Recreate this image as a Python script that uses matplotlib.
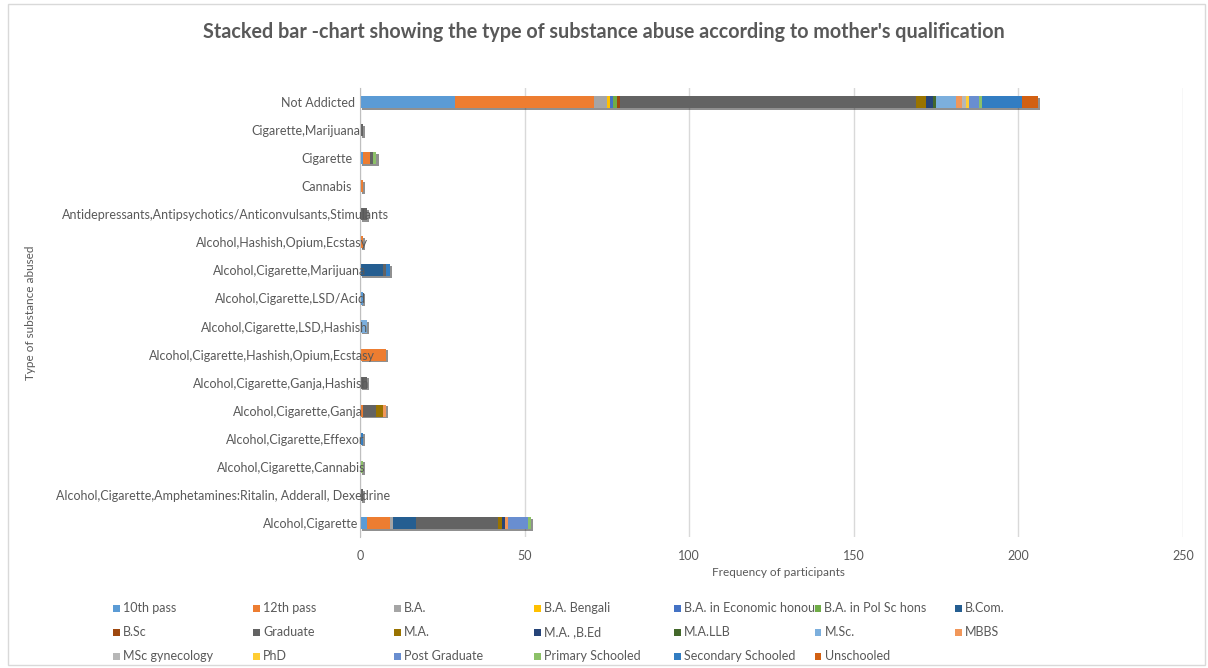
import matplotlib
matplotlib.use("Agg")
import matplotlib.pyplot as plt
import matplotlib.patheffects as pe
from matplotlib.patches import Rectangle
from matplotlib.transforms import ScaledTranslation
import numpy as np

plt.rcParams["font.family"] = ["Lato", "DejaVu Sans"]

# Substance categories, bottom to top
categories = [
    "Alcohol,Cigarette",
    "Alcohol,Cigarette,Amphetamines:Ritalin, Adderall, Dexedrine",
    "Alcohol,Cigarette,Cannabis",
    "Alcohol,Cigarette,Effexor",
    "Alcohol,Cigarette,Ganja",
    "Alcohol,Cigarette,Ganja,Hashish",
    "Alcohol,Cigarette,Hashish,Opium,Ecstasy",
    "Alcohol,Cigarette,LSD,Hashish",
    "Alcohol,Cigarette,LSD/Acid",
    "Alcohol,Cigarette,Marijuana",
    "Alcohol,Hashish,Opium,Ecstasy",
    "Antidepressants,Antipsychotics/Anticonvulsants,Stimulants",
    "Cannabis",
    "Cigarette",
    "Cigarette,Marijuana",
    "Not Addicted",
]

# Mother's qualification series (counts per category, same order as above)
tenth_pass         = [2, 0, 0, 0, 0, 0, 0, 0, 1, 0, 0, 0, 0, 1, 0, 29]
twelfth_pass       = [7, 0, 0, 0, 1, 0, 8, 0, 0, 0, 1, 0, 1, 2, 0, 42]
ba                 = [1, 0, 0, 0, 0, 0, 0, 0, 0, 0, 0, 0, 0, 0, 0, 4]
ba_bengali         = [0, 0, 0, 0, 0, 0, 0, 0, 0, 0, 0, 0, 0, 0, 0, 1]
ba_economic        = [0, 0, 0, 0, 0, 0, 0, 0, 0, 0, 0, 0, 0, 0, 0, 1]
ba_pol_sc          = [0, 0, 0, 0, 0, 0, 0, 0, 0, 0, 0, 0, 0, 0, 0, 1]
bcom               = [7, 0, 0, 0, 0, 0, 0, 0, 0, 7, 0, 0, 0, 0, 0, 0]
bsc                = [0, 0, 0, 0, 0, 0, 0, 0, 0, 0, 0, 0, 0, 0, 0, 1]
graduate           = [25, 1, 0, 0, 4, 2, 0, 0, 0, 1, 0, 2, 0, 1, 1, 90]
ma                 = [1, 0, 0, 0, 2, 0, 0, 0, 0, 0, 0, 0, 0, 0, 0, 3]
ma_bed             = [1, 0, 0, 0, 0, 0, 0, 0, 0, 0, 0, 0, 0, 0, 0, 2]
ma_llb             = [0, 0, 0, 0, 0, 0, 0, 0, 0, 0, 0, 0, 0, 0, 0, 1]
msc                = [0, 0, 0, 0, 0, 0, 0, 2, 0, 0, 0, 0, 0, 0, 0, 6]
mbbs               = [1, 0, 0, 0, 1, 0, 0, 0, 0, 0, 0, 0, 0, 0, 0, 2]
msc_gynecology     = [0, 0, 0, 0, 0, 0, 0, 0, 0, 0, 0, 0, 0, 0, 0, 1]
phd                = [0, 0, 0, 0, 0, 0, 0, 0, 0, 0, 0, 0, 0, 0, 0, 1]
post_graduate      = [6, 0, 0, 0, 0, 0, 0, 0, 0, 0, 0, 0, 0, 0, 0, 3]
primary_schooled   = [1, 0, 1, 0, 0, 0, 0, 0, 0, 0, 0, 0, 0, 1, 0, 1]
secondary_schooled = [0, 0, 0, 1, 0, 0, 0, 0, 0, 1, 0, 0, 0, 0, 0, 12]
unschooled         = [0, 0, 0, 0, 0, 0, 0, 0, 0, 0, 0, 0, 0, 0, 0, 5]

series_labels = [
    "10th pass", "12th pass", "B.A.", "B.A. Bengali", "B.A. in Economic honou",
    "B.A. in Pol Sc hons", "B.Com.", "B.Sc", "Graduate", "M.A.", "M.A. ,B.Ed",
    "M.A.LLB", "M.Sc.", "MBBS", "MSc gynecology", "PhD", "Post Graduate",
    "Primary Schooled", "Secondary Schooled", "Unschooled",
]
series_values = [
    tenth_pass, twelfth_pass, ba, ba_bengali, ba_economic, ba_pol_sc, bcom, bsc,
    graduate, ma, ma_bed, ma_llb, msc, mbbs, msc_gynecology, phd, post_graduate,
    primary_schooled, secondary_schooled, unschooled,
]
series_colors = [
    "#5b9bd5", "#ed7d31", "#a5a5a5", "#ffc000", "#4472c4", "#70ad47", "#255e91",
    "#9e480e", "#636363", "#997300", "#264478", "#43682b", "#7cafdd", "#f1975a",
    "#b7b7b7", "#ffcd33", "#698ed0", "#8cc168", "#327dc2", "#d26012",
]

TEXT = "#595959"
W, H = 1208, 668
fig = plt.figure(figsize=(W / 100, H / 100), dpi=100)

# Outer chart border
fig.patches.append(Rectangle((8 / W, 3 / H), 1197 / W, 661 / H, transform=fig.transFigure,
                             fill=False, edgecolor="#d9d9d9", linewidth=1))

ax = fig.add_axes([360 / W, 1 - 537 / H, 823 / W, 449 / H])

y = np.arange(len(categories))
left = np.zeros(len(categories))
shadow = [pe.SimplePatchShadow(offset=(1.5, -1.2), shadow_rgbFace="#222222", alpha=0.5),
          pe.Normal()]
for label, vals, color in zip(series_labels, series_values, series_colors):
    vals = np.array(vals, dtype=float)
    bars = ax.barh(y, vals, left=left, height=0.43, color=color, label=label,
                   edgecolor="none", zorder=3)
    for b, v in zip(bars, vals):
        if v > 0:
            b.set_path_effects(shadow)
    left += vals

ax.set_xlim(0, 250)
ax.set_ylim(-0.5, len(categories) - 0.5)
ax.set_xticks([0, 50, 100, 150, 200, 250])
ax.grid(axis="x", color="#d9d9d9", linewidth=1, zorder=0)
ax.set_axisbelow(True)
ax.yaxis.set_zorder(5)
for s in ["top", "right", "bottom"]:
    ax.spines[s].set_visible(False)
ax.spines["left"].set_color("#bfbfbf")
ax.spines["left"].set_zorder(4)
ax.tick_params(axis="both", length=0, colors=TEXT, labelsize=9)
ax.tick_params(axis="x", pad=9)
ax.tick_params(axis="y", pad=0)
ax.set_yticks(y)
ax.set_yticklabels(categories)
for t in ax.get_yticklabels():
    dx = (-14 + 0.75 * len(t.get_text())) / 100
    t.set_transform(t.get_transform() + ScaledTranslation(dx, 0, fig.dpi_scale_trans))
    t.set_color(TEXT)

fig.text(604 / W, 1 - 32 / H,
         "Stacked bar -chart showing the type of substance abuse according to mother's qualification",
         ha="center", va="center", fontsize=14.2, fontweight="bold", color=TEXT)
fig.text(778 / W, 1 - 573 / H, "Frequency of participants", ha="center", va="center",
         fontsize=8.5, color=TEXT)
fig.text(31 / W, 1 - 313 / H, "Type of substance abused", ha="center", va="center",
         rotation=90, fontsize=8.5, color=TEXT)

# Legend grid: 7 columns, row-major order
for i, (label, color) in enumerate(zip(series_labels, series_colors)):
    r, c = divmod(i, 7)
    x0 = 113 + c * 140.3
    y0 = 608 + r * 24
    fig.patches.append(Rectangle((x0 / W, 1 - (y0 + 3.5) / H), 7 / W, 7 / H,
                                 transform=fig.transFigure, facecolor=color,
                                 edgecolor="none"))
    fig.text((x0 + 10) / W, 1 - y0 / H, label, ha="left", va="center",
             fontsize=9, color=TEXT)

fig.savefig("out.png", dpi=100)
